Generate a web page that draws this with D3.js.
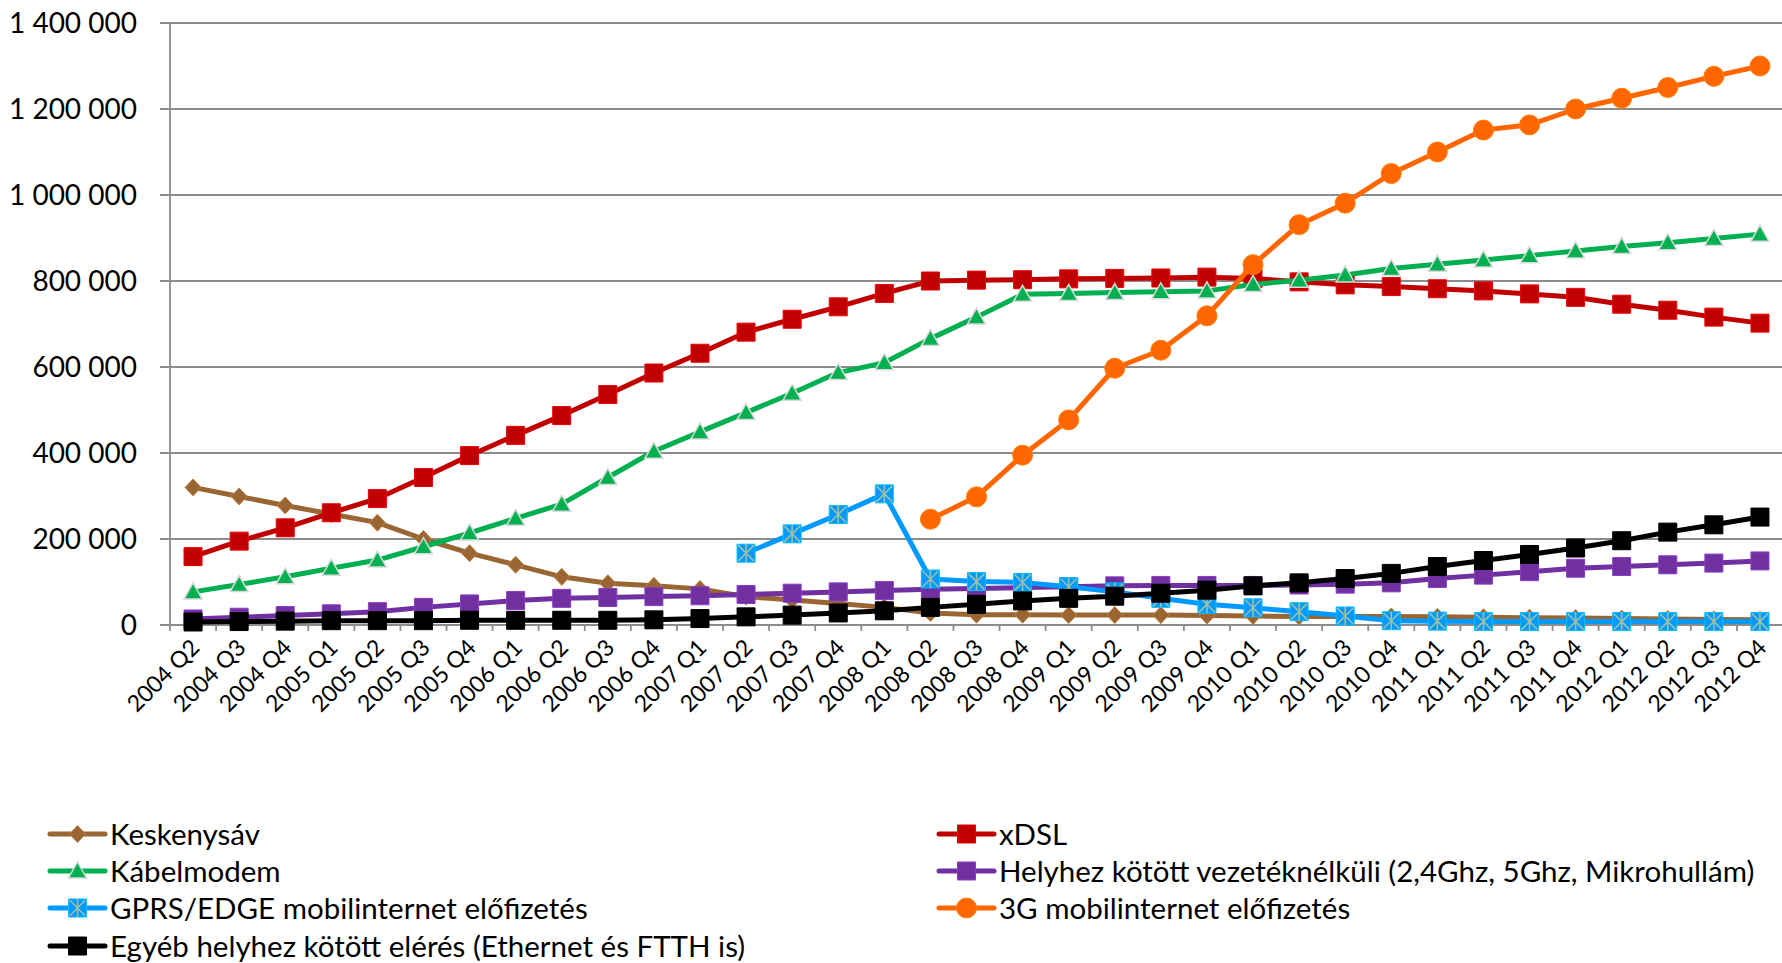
<!DOCTYPE html>
<html>
<head>
<meta charset="utf-8">
<script src="https://cdn.jsdelivr.net/npm/d3@7"></script>
<style>
  body { margin: 0; background: #fff; }
  text { font-family: Lato, "Open Sans", sans-serif; fill: #000; }
</style>
</head>
<body>
<div id="chart"></div>
<script>
const categories = [
    "2004 Q2", "2004 Q3", "2004 Q4",
    "2005 Q1", "2005 Q2", "2005 Q3", "2005 Q4",
    "2006 Q1", "2006 Q2", "2006 Q3", "2006 Q4",
    "2007 Q1", "2007 Q2", "2007 Q3", "2007 Q4",
    "2008 Q1", "2008 Q2", "2008 Q3", "2008 Q4",
    "2009 Q1", "2009 Q2", "2009 Q3", "2009 Q4",
    "2010 Q1", "2010 Q2", "2010 Q3", "2010 Q4",
    "2011 Q1", "2011 Q2", "2011 Q3", "2011 Q4",
    "2012 Q1", "2012 Q2", "2012 Q3", "2012 Q4"
];

const keskenysav = [320000, 299000, 278000, 258000, 238000, 200000, 167000, 140000, 112000, 97000,
    91000, 84000, 66000, 58000, 50000, 41000, 28000, 24000, 24000, 23000,
    23000, 23000, 22000, 21000, 20000, 20000, 20000, 19000, 18000, 17000,
    16000, 15000, 14000, 13000, 12000];

const xdsl = [159000, 195000, 226000, 261000, 294000, 343000, 394000, 441000, 487000, 536000,
    586000, 632000, 681000, 711000, 740000, 771000, 800000, 802000, 803000, 805000,
    806000, 807000, 809000, 806000, 798000, 791000, 787000, 782000, 777000, 770000,
    762000, 746000, 732000, 716000, 702000];

const kabelmodem = [77000, 94000, 112000, 132000, 151000, 182000, 214000, 248000, 281000, 343000,
    404000, 449000, 494000, 539000, 587000, 610000, 666000, 716000, 769000, 771000,
    773000, 775000, 777000, 792000, 802000, 814000, 829000, 839000, 849000, 859000,
    870000, 880000, 889000, 899000, 909000];

const vezeteknelkuli = [14000, 18000, 22000, 26000, 31000, 41000, 49000, 57000, 62000, 64000,
    66000, 68000, 71000, 74000, 77000, 80000, 83000, 85000, 87000, 89000,
    91000, 92000, 92000, 92000, 93000, 95000, 98000, 108000, 116000, 124000,
    132000, 136000, 140000, 144000, 149000];

const gprs = [null, null, null, null, null, null, null, null, null, null,
    null, null, 167000, 212000, 257000, 305000, 107000, 101000, 99000, 89000,
    77000, 62000, 48000, 40000, 31000, 21000, 10000, 9000, 8000, 8000,
    8000, 8000, 8000, 8000, 8000];

const mobil3g = [null, null, null, null, null, null, null, null, null, null,
    null, null, null, null, null, null, 246000, 298000, 395000, 477000,
    597000, 639000, 719000, 838000, 931000, 981000, 1050000, 1100000, 1151000, 1163000,
    1200000, 1225000, 1250000, 1276000, 1300000];

const egyeb = [7000, 8000, 9000, 10000, 10000, 10000, 11000, 11000, 11000, 11000,
    12000, 15000, 19000, 23000, 28000, 33000, 41000, 48000, 56000, 62000,
    67000, 74000, 81000, 91000, 98000, 108000, 120000, 136000, 150000, 164000,
    179000, 196000, 216000, 233000, 251000];

const yTicks = [0, 200000, 400000, 600000, 800000, 1000000, 1200000, 1400000];

const series = [
    {name: "Keskenysáv", values: keskenysav, color: "#996633", marker: "diamond"},
    {name: "xDSL", values: xdsl, color: "#c00000", marker: "square"},
    {name: "Kábelmodem", values: kabelmodem, color: "#00b050", marker: "triangle"},
    {name: "Helyhez kötött vezetéknélküli (2,4Ghz, 5Ghz, Mikrohullám)", values: vezeteknelkuli, color: "#7030a0", marker: "square"},
    {name: "GPRS/EDGE mobilinternet előfizetés", values: gprs, color: "#0099ff", marker: "star"},
    {name: "3G mobilinternet előfizetés", values: mobil3g, color: "#ff6600", marker: "circle"},
    {name: "Egyéb helyhez kötött elérés (Ethernet és FTTH is)", values: egyeb, color: "#000000", marker: "square"}
];

const width = 1782;
const height = 963;
const plotLeft = 170, plotRight = 1783, plotTop = 23, plotBottom = 625;

const svg = d3.select("#chart").append("svg")
    .attr("width", width)
    .attr("height", height);

const x = d3.scaleBand().domain(categories).range([plotLeft, plotRight]);
const y = d3.scaleLinear().domain([0, 1400000]).range([plotBottom, plotTop]);
const cx = c => x(c) + x.bandwidth() / 2;

const fmt = d3.formatLocale({decimal: ",", thousands: " ", grouping: [3], currency: ["", ""]}).format(",");

// gridlines + y ticks
svg.append("g").selectAll("line")
    .data(yTicks)
    .enter().append("line")
    .attr("x1", plotLeft - 10)
    .attr("x2", width)
    .attr("y1", d => y(d))
    .attr("y2", d => y(d))
    .attr("stroke", "#8c8c8c")
    .attr("stroke-width", 1.8);

svg.append("line")
    .attr("x1", plotLeft).attr("x2", plotLeft)
    .attr("y1", y(1400000)).attr("y2", y(0))
    .attr("stroke", "#8c8c8c")
    .attr("stroke-width", 1.8);

// x ticks between categories
const xTickPos = categories.map(c => x(c)).concat([plotRight]);
svg.append("g").selectAll("line")
    .data(xTickPos)
    .enter().append("line")
    .attr("x1", d => d).attr("x2", d => d)
    .attr("y1", y(0)).attr("y2", y(0) + 6)
    .attr("stroke", "#8c8c8c")
    .attr("stroke-width", 1.8);

svg.append("g").selectAll("text")
    .data(yTicks)
    .enter().append("text")
    .attr("x", 137)
    .attr("y", d => y(d))
    .attr("dy", "0.36em")
    .attr("text-anchor", "end")
    .style("font-size", "28px")
    .text(d => fmt(d));

svg.append("g").selectAll("text")
    .data(categories)
    .enter().append("text")
    .attr("text-anchor", "end")
    .attr("transform", d => `translate(${cx(d) + 8},${y(0) + 24}) rotate(-45)`)
    .style("font-size", "23px")
    .text(d => d);

function markerPath(type) {
    if (type === "square") return "M-9,-9H9V9H-9Z";
    if (type === "diamond") return "M0,-8.5L8,0L0,8.5L-8,0Z";
    if (type === "triangle") return "M0,-9L9,7L-9,7Z";
    if (type === "circle") return "M10,0A10,10 0 1,1 -10,0A10,10 0 1,1 10,0Z";
    return "M-9,-9H9V9H-9Z";
}

function drawMarker(g, s) {
    g.append("path")
        .attr("d", markerPath(s.marker))
        .attr("fill", s.color)
        .attr("stroke", s.marker === "triangle" ? "#d9d9d9" : d3.color(s.color).brighter(0.6))
        .attr("stroke-width", s.marker === "triangle" ? 1.5 : 1);
    if (s.marker === "star") {
        g.append("path")
            .attr("d", "M-8,-8L8,8M-8,8L8,-8M0,-9V9")
            .attr("stroke", "#9cbfa8")
            .attr("stroke-width", 1.6)
            .attr("fill", "none");
    }
}

const line = d3.line()
    .defined(d => d.v != null)
    .x(d => cx(d.c))
    .y(d => y(d.v));

series.forEach(s => {
    const pts = categories.map((c, i) => ({c: c, v: s.values[i]}));
    const g = svg.append("g");
    g.append("path")
        .datum(pts)
        .attr("d", line)
        .attr("fill", "none")
        .attr("stroke", s.color)
        .attr("stroke-width", 5)
        .attr("stroke-linejoin", "round");
    g.selectAll(".m")
        .data(pts.filter(d => d.v != null))
        .enter().append("g")
        .attr("transform", d => `translate(${cx(d.c)},${y(d.v)})`)
        .each(function() { drawMarker(d3.select(this), s); });
});

// legend, two columns, row-major
const legendCols = [50, 939];
const legendRows = [834, 871, 908, 946];
series.forEach((s, i) => {
    const lx = legendCols[i % 2];
    const ly = legendRows[Math.floor(i / 2)];
    const g = svg.append("g").attr("transform", `translate(${lx},${ly})`);
    g.append("line")
        .attr("x1", 0).attr("x2", 55)
        .attr("stroke", s.color)
        .attr("stroke-width", 5)
        .attr("stroke-linecap", "round");
    drawMarker(g.append("g").attr("transform", "translate(27.5,0)"), s);
    g.append("text")
        .attr("x", 60)
        .attr("dy", "0.36em")
        .style("font-size", "29.5px")
        .text(s.name);
});
</script>
</body>
</html>
